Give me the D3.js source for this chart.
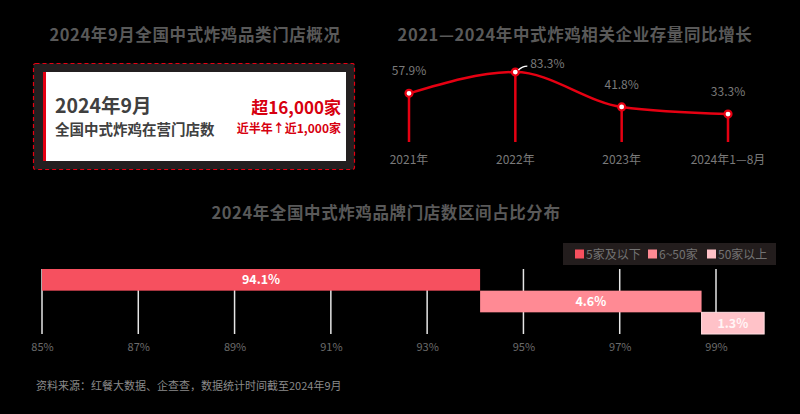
<!DOCTYPE html>
<html>
<head>
<meta charset="utf-8">
<script src="https://cdn.jsdelivr.net/npm/d3@7/dist/d3.min.js"></script>
<style>
  body { margin: 0; background: #000; }
  svg { display: block; font-family: "Noto Sans CJK SC", "Noto Sans", sans-serif; }
</style>
</head>
<body>
<svg id="chart" width="800" height="414"></svg>
<script>
// 门店概况
var cardTitle = "2024年9月";
var cardSub = "全国中式炸鸡在营门店数";
var cardValue = "超16,000家";
var cardNote = "近半年↑近1,000家";

// 企业存量同比增长
var years = ["2021年", "2022年", "2023年", "2024年1—8月"];
var growth = [57.9, 83.3, 41.8, 33.3];

// 品牌门店数区间占比
var bands = ["5家及以下", "6~50家", "50家以上"];
var shares = [94.1, 4.6, 1.3];
var bandColors = ["#f6505f", "#ff8a94", "#ffc2c8"];
var xTicks = [85, 87, 89, 91, 93, 95, 97, 99];

var svg = d3.select("#chart");
svg.append("rect").attr("width", 800).attr("height", 414).attr("fill", "#000");

// titles
var titles = [
  ["2024年9月全国中式炸鸡品类门店概况", 195, 41],
  ["2021—2024年中式炸鸡相关企业存量同比增长", 575, 41],
  ["2024年全国中式炸鸡品牌门店数区间占比分布", 386, 219]
];
svg.selectAll("text.title").data(titles).enter().append("text")
  .attr("class", "title")
  .attr("x", function(d){ return d[1]; })
  .attr("y", function(d){ return d[2]; })
  .attr("text-anchor", "middle")
  .attr("font-size", 16.5).attr("font-weight", "bold")
  .attr("letter-spacing", 0.6)
  .attr("fill", "#595959")
  .text(function(d){ return d[0]; });

//////////////////////////////////////////////////
// 卡片
var card = svg.append("g");
card.append("rect").attr("x", 33.5).attr("y", 63.5).attr("width", 321).attr("height", 106)
  .attr("rx", 2).attr("fill", "#231f20")
  .attr("stroke", "#e60012").attr("stroke-width", 1.2).attr("stroke-dasharray", "4,3");
card.append("rect").attr("x", 43).attr("y", 72).attr("width", 303).attr("height", 89).attr("fill", "#fff");
card.append("rect").attr("x", 43).attr("y", 72).attr("width", 3).attr("height", 89).attr("fill", "#e60012");
card.append("text").attr("x", 55).attr("y", 113).attr("font-size", 19.5).attr("font-weight", "bold")
  .attr("fill", "#404040").text(cardTitle);
card.append("text").attr("x", 55).attr("y", 135).attr("font-size", 14.5).attr("font-weight", "bold")
  .attr("fill", "#404040").text(cardSub);
card.append("text").attr("x", 341).attr("y", 114).attr("text-anchor", "end")
  .attr("font-size", 17).attr("font-weight", "bold").attr("fill", "#d7000f").text(cardValue);
card.append("text").attr("x", 341).attr("y", 133).attr("text-anchor", "end")
  .attr("font-size", 12).attr("font-weight", "bold").attr("fill", "#d7000f").text(cardNote);

//////////////////////////////////////////////////
// 折线
var lx = d3.scalePoint().domain(years).range([409, 728]);
var ly = d3.scaleLinear().domain([0, 100]).range([142, 58]);
var lg = svg.append("g");

lg.selectAll("line.stem").data(growth).enter().append("line")
  .attr("x1", function(d, i){ return lx(years[i]); })
  .attr("x2", function(d, i){ return lx(years[i]); })
  .attr("y1", function(d){ return ly(d); })
  .attr("y2", ly(0))
  .attr("stroke", "#e60012").attr("stroke-width", 2.5);

var line = d3.line()
  .x(function(d, i){ return lx(years[i]); })
  .y(function(d){ return ly(d); })
  .curve(d3.curveMonotoneX);
lg.append("path").datum(growth).attr("d", line)
  .attr("fill", "none").attr("stroke", "#e60012").attr("stroke-width", 2.5);

lg.selectAll("circle").data(growth).enter().append("circle")
  .attr("cx", function(d, i){ return lx(years[i]); })
  .attr("cy", function(d){ return ly(d); })
  .attr("r", 3.5).attr("fill", "#fff").attr("stroke", "#e60012").attr("stroke-width", 2.2);

// 2022 label has a little leader
var labelOff = [[0, -18], [32, -4], [0, -18], [0, -18]];
lg.append("path")
  .attr("d", "M" + (lx(years[1]) + 3) + "," + (ly(growth[1]) - 2) + " q4,-4 9,-4")
  .attr("fill", "none").attr("stroke", "#fff").attr("stroke-width", 1.3);
lg.selectAll("text.val").data(growth).enter().append("text")
  .attr("class", "val")
  .attr("x", function(d, i){ return lx(years[i]) + labelOff[i][0]; })
  .attr("y", function(d, i){ return ly(d) + labelOff[i][1]; })
  .attr("text-anchor", "middle").attr("font-size", 12).attr("fill", "#7a7a7a")
  .text(function(d){ return d.toFixed(1) + "%"; });
lg.selectAll("text.cat").data(years).enter().append("text")
  .attr("class", "cat")
  .attr("x", function(d){ return lx(d); })
  .attr("y", 164)
  .attr("text-anchor", "middle").attr("font-size", 12).attr("fill", "#7a7a7a")
  .text(function(d){ return d; });

//////////////////////////////////////////////////
// 区间占比 (瀑布)
var bx = d3.scaleLinear().domain([85, 99]).range([42, 716]);
var by = d3.scaleBand().domain(bands).range([269, 334]);
var bg = svg.append("g");

bg.selectAll("line.grid").data(xTicks).enter().append("line")
  .attr("x1", function(d){ return bx(d); })
  .attr("x2", function(d){ return bx(d); })
  .attr("y1", 269).attr("y2", 334)
  .attr("stroke", "#e6e6e6").attr("stroke-width", 1.5);

// 第一段从 0 起（坐标轴从85%截断）
var bars = shares.map(function(v, i){
  var s = i == 0 ? 0 : d3.sum(shares.slice(0, i));
  return { band: bands[i], s: Math.max(s, 85), e: s + v, v: v, c: bandColors[i] };
});
bg.selectAll("rect.bar").data(bars).enter().append("rect")
  .attr("x", function(d){ return bx(d.s); })
  .attr("y", function(d){ return by(d.band); })
  .attr("width", function(d){ return bx(d.e) - bx(d.s); })
  .attr("height", by.bandwidth())
  .attr("fill", function(d){ return d.c; })
  .attr("stroke", function(d, i){ return i == 2 ? "#ffdde0" : "none"; })
  .attr("stroke-width", 1);
bg.selectAll("text.bl").data(bars).enter().append("text")
  .attr("x", function(d){ return (bx(d.s) + bx(d.e)) / 2; })
  .attr("y", function(d){ return by(d.band) + by.bandwidth() / 2 + 4.5; })
  .attr("text-anchor", "middle").attr("font-size", 12.5).attr("font-weight", "bold")
  .attr("fill", function(d, i){ return i == 2 ? "#fff5f6" : "#fff"; })
  .text(function(d){ return d.v.toFixed(1) + "%"; });

var axis = d3.axisBottom(bx).tickValues(xTicks).tickSize(0)
  .tickFormat(function(d){ return d + "%"; });
var ag = bg.append("g").attr("transform", "translate(0,340)").call(axis);
ag.select(".domain").remove();
ag.selectAll("text").attr("font-size", 11).attr("fill", "#6b6b6b")
  .attr("font-family", "'Noto Sans CJK SC', sans-serif");

// legend
var leg = svg.append("g");
leg.append("rect").attr("x", 563).attr("y", 243).attr("width", 213).attr("height", 22).attr("fill", "#231d1d");
var legX = [575, 648, 707];
var li = leg.selectAll("g.li").data(bands).enter().append("g")
  .attr("transform", function(d, i){ return "translate(" + legX[i] + ",254)"; });
li.append("rect").attr("x", 0).attr("y", -4.5).attr("width", 9).attr("height", 9)
  .attr("fill", function(d, i){ return bandColors[i]; });
li.append("text").attr("x", 11).attr("y", 4.5).attr("font-size", 12).attr("fill", "#737373")
  .text(function(d){ return d; });

// 出典
svg.append("text").attr("x", 36).attr("y", 390).attr("font-size", 11).attr("fill", "#8a8a8a")
  .text("资料来源：红餐大数据、企查查，数据统计时间截至2024年9月");
</script>
</body>
</html>
